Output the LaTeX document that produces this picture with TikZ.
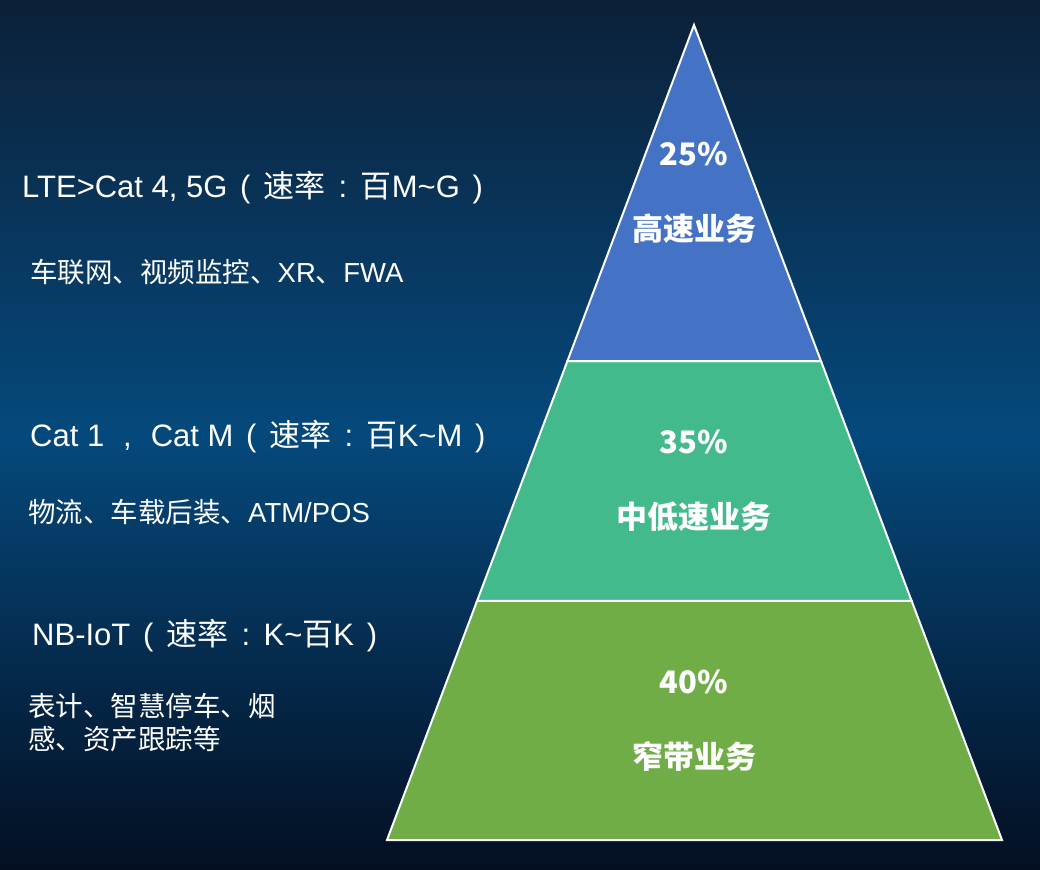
\documentclass[tikz,border=0pt]{standalone}
\usepackage{fontspec}
\setmainfont{Liberation Sans}
\newfontfamily\cjk{Noto Sans CJK SC}
\usetikzlibrary{calc}
\definecolor{bgtop}{HTML}{0C2038}
\definecolor{bgmid}{HTML}{05497C}
\definecolor{bgbot}{HTML}{040F22}
\definecolor{tierhigh}{HTML}{4472C4}
\definecolor{tiermid}{HTML}{43BA8C}
\definecolor{tierlow}{HTML}{70AD47}
\tikzset{tier/.style={draw=white,line width=2pt,line join=miter},
	info/.style={anchor=base west,text=white,inner sep=0pt},
	pct/.style={anchor=base,text=white,inner sep=0pt,font=\cjk\bfseries\fontsize{31}{31}\selectfont}}
\newcommand{\zh}[1]{{\cjk #1}}
\newcommand{\fwp}[2][1.15em]{\makebox[#1][c]{#2}}
\newcommand{\headsize}{\fontsize{31}{31}\selectfont}
\newcommand{\usesize}{\fontsize{27.5}{27.5}\selectfont}

\begin{document}
\begin{tikzpicture}[x=1pt,y=-1pt]
				\shade[top color=bgtop,bottom color=bgbot,middle color=bgmid] (0,0) rectangle (1040,869);
				\useasboundingbox (0,0) rectangle (1040,869);
				\coordinate (apex) at (694,25);
				\coordinate (baseL) at (387,840);
				\coordinate (baseR) at (1002,840);
				\coordinate (hiL) at ($(apex)!0.4123!(baseL)$);
				\coordinate (hiR) at ($(apex)!0.4123!(baseR)$);
				\coordinate (midL) at ($(apex)!0.7067!(baseL)$);
				\coordinate (midR) at ($(apex)!0.7067!(baseR)$);
				\filldraw[tier,fill=tierlow] (midL) -- (midR) -- (baseR) -- (baseL) -- cycle;
				\filldraw[tier,fill=tiermid] (hiL) -- (hiR) -- (midR) -- (midL) -- cycle;
				\filldraw[tier,fill=tierhigh] (apex) -- (hiR) -- (hiL) -- cycle;
				\node[pct] (p25) at (694,166){25\%};
				\node[pct] (s25) at (694,240){高速业务};
				\node[pct] (p35) at (694,453){35\%};
				\node[pct] (s35) at (694,528){中低速业务};
				\node[pct] (p40) at (694,693){40\%};
				\node[pct] (s40) at (694,768){窄带业务};
				\node[info,font=\headsize] (lte) at (22,197){LTE>Cat 4, 5G\fwp{(}\zh{速率}\fwp{:}\zh{百}M\textasciitilde G\fwp{)}};
				\node[info,font=\usesize] (lteuse) at (30,282){\zh{车联网、视频监控、}XR\zh{、}FWA};
				\node[info,font=\headsize] (cat) at (30,446){Cat 1\fwp[1.5em]{,}Cat M\fwp{(}\zh{速率}\fwp{:}\zh{百}K\textasciitilde M\fwp{)}};
				\node[info,font=\usesize] (catuse) at (28,522){\zh{物流、车载后装、}ATM/POS};
				\node[info,font=\headsize] (nb) at (32,645){NB-IoT\fwp{(}\zh{速率}\fwp{:}K\textasciitilde\zh{百}K\fwp{)}};
				\node[info,font=\usesize] (nbuse) at (28,716){\zh{表计、智慧停车、烟}};
				\node[info,font=\usesize] (nbuse2) at (28,749){\zh{感、资产跟踪等}};
			\end{tikzpicture}
\end{document}
